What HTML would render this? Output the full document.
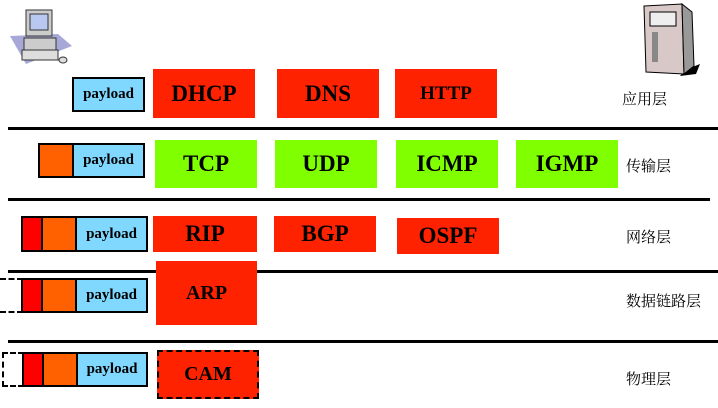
<!DOCTYPE html>
<html><head><meta charset="utf-8"><style>
body{margin:0;width:718px;height:408px;background:#fff;position:relative;overflow:hidden;font-family:"Liberation Serif","Noto Serif CJK SC",serif}
.a{position:absolute;box-sizing:border-box}
.p{background:#80d8ff;border:2px solid #000;font-weight:bold;font-size:15px;display:flex;align-items:center;justify-content:center}
.o{background:#ff6000;border:2px solid #000}
.r{background:#ff0000;border:2px solid #000}
.d{border:2px dashed #000}
.b{font-weight:bold;font-size:23px;display:flex;align-items:center;justify-content:center;color:#000}
.red{background:#ff2200}.grn{background:#80ff00}
.l{height:3px;background:#000}
.t{font-size:15px;font-family:"Noto Serif CJK SC",serif}
</style></head><body>
<svg class="a" style="left:8px;top:6px" width="66" height="60" viewBox="0 0 66 60">
<polygon points="2,30 50,28 64,40 18,58" fill="#a8a8d8"/>
<rect x="18" y="4" width="26" height="26" fill="#ccc" stroke="#333"/>
<rect x="22" y="8" width="18" height="16" fill="#b8c8f0" stroke="#333"/>
<rect x="16" y="32" width="32" height="12" fill="#ccc" stroke="#333"/>
<rect x="14" y="44" width="36" height="10" fill="#ddd" stroke="#333"/>
<ellipse cx="55" cy="54" rx="4" ry="3" fill="#ddd" stroke="#333"/>
</svg>
<svg class="a" style="left:640px;top:2px" width="62" height="74" viewBox="0 0 62 74">
<polygon points="45,68 60,62 56,72 40,74" fill="#000"/>
<polygon points="4,4 42,2 44,72 6,70" fill="#d8c8c8" stroke="#000"/>
<polygon points="42,2 52,10 54,64 44,72" fill="#999" stroke="#000"/>
<rect x="10" y="10" width="26" height="14" fill="#eee" stroke="#000"/>
<rect x="12" y="30" width="6" height="30" fill="#888"/>
</svg>
<div class="a l" style="left:8px;top:127px;width:710px"></div>
<div class="a l" style="left:8px;top:198px;width:702px"></div>
<div class="a l" style="left:8px;top:270px;width:710px"></div>
<div class="a l" style="left:8px;top:340px;width:710px"></div>

<div class="a p" style="left:72px;top:77px;width:73px;height:35px">payload</div>
<div class="a b red" style="left:153px;top:69px;width:102px;height:49px">DHCP</div>
<div class="a b red" style="left:277px;top:69px;width:102px;height:49px">DNS</div>
<div class="a b red" style="left:395px;top:69px;width:102px;height:49px;font-size:19px">HTTP</div>
<div class="a t" style="left:622px;top:88px">应用层</div>

<div class="a o" style="left:38px;top:143px;width:36px;height:35px"></div>
<div class="a p" style="left:72px;top:143px;width:73px;height:35px">payload</div>
<div class="a b grn" style="left:155px;top:140px;width:102px;height:48px">TCP</div>
<div class="a b grn" style="left:275px;top:140px;width:102px;height:48px">UDP</div>
<div class="a b grn" style="left:396px;top:140px;width:102px;height:48px">ICMP</div>
<div class="a b grn" style="left:516px;top:140px;width:102px;height:48px">IGMP</div>
<div class="a t" style="left:626px;top:155px">传输层</div>

<div class="a r" style="left:21px;top:216px;width:22px;height:36px"></div>
<div class="a o" style="left:41px;top:216px;width:36px;height:36px"></div>
<div class="a p" style="left:75px;top:216px;width:73px;height:36px">payload</div>
<div class="a b red" style="left:153px;top:216px;width:104px;height:36px">RIP</div>
<div class="a b red" style="left:274px;top:216px;width:102px;height:36px">BGP</div>
<div class="a b red" style="left:397px;top:218px;width:102px;height:36px">OSPF</div>
<div class="a t" style="left:626px;top:226px">网络层</div>

<div class="a d" style="left:0px;top:278px;width:23px;height:35px;border-left:none"></div>
<div class="a r" style="left:21px;top:278px;width:22px;height:35px"></div>
<div class="a o" style="left:41px;top:278px;width:36px;height:35px"></div>
<div class="a p" style="left:75px;top:278px;width:73px;height:35px">payload</div>
<div class="a b red" style="left:156px;top:261px;width:101px;height:64px;font-size:20px">ARP</div>
<div class="a t" style="left:626px;top:290px">数据链路层</div>

<div class="a d" style="left:2px;top:352px;width:22px;height:35px"></div>
<div class="a r" style="left:22px;top:352px;width:22px;height:35px"></div>
<div class="a o" style="left:42px;top:352px;width:36px;height:35px"></div>
<div class="a p" style="left:76px;top:352px;width:72px;height:35px">payload</div>
<div class="a b red d" style="left:157px;top:350px;width:102px;height:49px;font-size:20px">CAM</div>
<div class="a t" style="left:626px;top:368px">物理层</div>
</body></html>
